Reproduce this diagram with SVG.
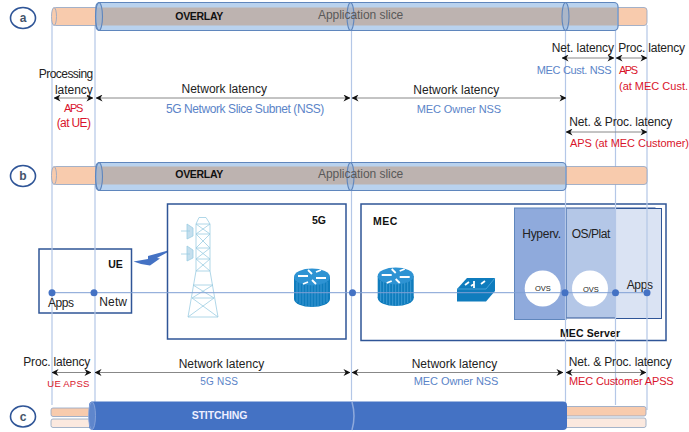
<svg xmlns="http://www.w3.org/2000/svg" width="689" height="432" viewBox="0 0 689 432">
<style>
text{font-family:"Liberation Sans",Arial,sans-serif;font-size:12px;fill:#222}
.s{font-size:11px}
.b{font-weight:bold;font-size:10.500px;fill:#111}
.blue{fill:#5b84c8}.red{fill:#d9142b}
.gt{fill:#595959}
.vl{stroke:#b4c7e7;stroke-width:1.200;fill:none}
.lat{stroke:#888;stroke-width:1;fill:none;marker-start:url(#ah);marker-end:url(#ah)}
.or{fill:#f8cbad;stroke:#8ea3c4;stroke-width:.8}
.pale{fill:#fbe9df;stroke:#8ea3bf;stroke-width:.8}
.pipe{fill:#b9d2ee;stroke:#5f86bd;stroke-width:1.200}
.gray{fill:#bdb3b0}
.ell{fill:#9db8dc;fill-opacity:.55;stroke:#5f86bd;stroke-width:1.100}
.lab{fill:#fff;stroke:#2f5597;stroke-width:1.600}
.box{fill:#fff;stroke:#2f5597;stroke-width:1.500}
.dot{fill:#4472c4}
.tw{stroke:#9ccde2;stroke-width:.8;fill:none}
.rt{fill:#0f7cbd}
.rl{stroke:#52a8dc;stroke-width:.7}
</style>
<defs>
<marker id="ah" viewBox="0 0 8 8" refX="7.500" refY="4" markerWidth="7" markerHeight="7" orient="auto-start-reverse" markerUnits="userSpaceOnUse"><path d="M0 0L8 4L0 8L2.500 4Z" fill="#111"/></marker>
<g id="rtr"><rect x="-18" y="0" width="36" height="22" class="rt"/><ellipse cx="0" cy="22" rx="18" ry="8" class="rt"/>
<path class="rl" d="M-15 5V25M-12 6V27M-9 7V28M-6 8V29M-3 8V30M0 8V30M3 8V30M6 8V29M9 7V28M12 6V27M15 5V25"/>
<ellipse cx="0" cy="0" rx="18" ry="8.500" fill="#2e93d3"/>
<path d="M-14-1L-4-1M14 1L4 1M-4-7L0-3M4 7L0 3M-4 5L-9 7M4-5L9-7" stroke="#fff" stroke-width="1.800"/></g>
</defs>
<g id="node-ue"><rect x="39" y="249" width="92.500" height="64" class="box"/><text class="b" x="108.300" y="268" textLength="14.400">UE</text>
<path d="M133.500 261.500L148 259L148 256L173.500 249L157 258L160 258.500L150 265.500L141 264Z" fill="#4472c4"/></g>
<g id="node-5g"><rect x="167.500" y="204" width="178.500" height="135" class="box"/><text class="b" x="312" y="224" textLength="14">5G</text>
<g class="tw" id="tower"><path d="M196 224V271M210 224V271M196 224L199 217.500H206L210 224M196 224H210M196 224L210 234M210 224L196 234M196 234H210M196 234L210 248M210 234L196 248M196 248H210M196 248L210 259M210 248L196 259M196 259H210M196 259L210 271M210 259L196 271M196 271H210M196 271L188 317M210 271L218 317M193 285L214 298M213 285L192 298M192 298H214M188 317L214 298M218 317L192 298M188 317H218M193 285H213"/>
<path d="M181 231H190M181 254H190M187 224V239L193 236V228ZM187 246V261L193 258V250Z" fill="#c5dfee"/></g>
<use href="#rtr" x="312" y="277"/></g>
<g id="node-mec"><rect x="361" y="204" width="305" height="136.500" class="box"/><text class="b" x="373" y="225" textLength="24.300">MEC</text>
<use href="#rtr" x="395.700" y="276"/>
<g id="switch"><path d="M457 289L467 278H495V291L486 301.500H457Z" fill="#0f7cbd"/><path d="M457 289H486L495 278" fill="none" stroke="#52a8dc" stroke-width=".8"/><path d="M465 285l4-3M474 281v7M481 284l4-3M471 286l3-2" stroke="#fff" stroke-width="1.800"/></g>
<g id="mec-server">
<rect x="566" y="208" width="89" height="110" fill="#b4c7e7" stroke="#2f5597" stroke-width="1"/>
<rect x="615.500" y="208.500" width="46" height="110" fill="#dae3f3" stroke="#2f5597" stroke-width="1"/>
<rect x="514.500" y="208" width="51.500" height="111.500" fill="#8faadc" stroke="#5f86bd" stroke-width="1"/>
<text x="522.300" y="238" textLength="38.700">Hyperv.</text><text x="571.700" y="238" textLength="38.700">OS/Plat</text>
<text x="626.700" y="289" textLength="26.300">Apps</text>
<circle cx="542.700" cy="288.500" r="18" fill="#fff"/><circle cx="590" cy="288.500" r="18" fill="#fff"/>
<text class="b" x="560" y="337" textLength="60">MEC Server</text></g></g>
<g id="connectors">
<path class="vl" d="M52 20V405M95 25V405M351.500 25V400M565.500 25V405M615.500 25V405M647 25V410"/>
<path d="M52 292.700H647" stroke="#7f9fd4" stroke-width="1" fill="none"/>
<circle class="dot" cx="52" cy="292.700" r="3.500"/><circle class="dot" cx="94" cy="292.700" r="3.500"/><circle class="dot" cx="352.500" cy="292.700" r="3.500"/><circle class="dot" cx="565" cy="292.700" r="3.500"/><circle class="dot" cx="615.500" cy="292.700" r="3.500"/><circle class="dot" cx="647" cy="292.700" r="3.500"/>
<path class="lat" d="M54 98H93"/><path class="lat" d="M96 98H350"/><path class="lat" d="M352 98H566"/>
<path class="lat" d="M562 58H614"/><path class="lat" d="M616 58H647"/><path class="lat" d="M566 132H647"/>
<path class="lat" d="M52 372.500H91"/><path class="lat" d="M95 372.500H350"/><path class="lat" d="M352 372.500H563"/><path class="lat" d="M566 372.500H646"/>
</g>
<g id="row-a">
<rect x="53" y="7.500" width="594" height="18" rx="3" class="or"/>
<ellipse cx="54" cy="16.500" rx="2.500" ry="9" class="or"/>
<rect x="96" y="2.500" width="522" height="28" rx="4" class="pipe"/>
<rect x="97" y="7.500" width="520" height="18" class="gray"/>
<ellipse cx="99" cy="16.500" rx="3.500" ry="14" class="ell"/>
<ellipse cx="350.500" cy="16.500" rx="3.500" ry="14" class="ell"/>
<ellipse cx="565.500" cy="16.500" rx="3.500" ry="14" class="ell"/>
<text class="b" x="175.300" y="20" textLength="48">OVERLAY</text>
<text x="318" y="19" textLength="85.300" class="gt">Application slice</text>
</g>
<g id="row-b">
<rect x="53" y="166.500" width="594" height="18" rx="3" class="or"/>
<ellipse cx="54" cy="175.500" rx="2.500" ry="9" class="or"/>
<rect x="96" y="162.500" width="470" height="28" rx="4" class="pipe"/>
<rect x="97" y="166.500" width="468" height="18" class="gray"/>
<ellipse cx="99" cy="176.500" rx="3.500" ry="14" class="ell"/>
<ellipse cx="350.500" cy="176.500" rx="3.500" ry="14" class="ell"/>
<text class="b" x="175.300" y="178" textLength="48">OVERLAY</text>
<text x="318" y="178" textLength="85.300" class="gt">Application slice</text>
</g>
<g id="row-c">
<rect x="51" y="408" width="40" height="8.500" rx="2" class="or"/>
<rect x="51" y="419" width="40" height="8.500" rx="2" class="pale"/>
<rect x="565" y="406.500" width="81" height="9.500" rx="2" class="or"/>
<rect x="565" y="418" width="81" height="9.500" rx="2" class="pale"/>
<rect x="89" y="401.500" width="478" height="28.500" rx="4" fill="#4472c4"/>
<ellipse cx="92" cy="415.700" rx="3.500" ry="14" fill="#5f86cc" stroke="#8faadc" stroke-width=".8"/>
<path d="M352 402Q356 416 352 430" fill="none" stroke="#8faadc" stroke-width="1.500"/>
<text x="191.700" y="419" textLength="55.600" style="fill:#eef;font-weight:bold;font-size:10.500px">STITCHING</text>
</g>
<g id="label-a"><ellipse cx="23" cy="18" rx="12.500" ry="10.500" class="lab"/><text x="23" y="22" text-anchor="middle" style="font-weight:bold;fill:#44546a">a</text></g>
<g id="label-b"><ellipse cx="23" cy="176" rx="12.500" ry="10.500" class="lab"/><text x="23" y="180" text-anchor="middle" style="font-weight:bold;fill:#44546a">b</text></g>
<g id="label-c"><ellipse cx="23" cy="416.500" rx="12.500" ry="10.500" class="lab"/><text x="23" y="420.500" text-anchor="middle" style="font-weight:bold;fill:#44546a">c</text></g>
<g id="labels">
<text x="38.700" y="78" textLength="54.600">Processing</text><text x="55" y="94" textLength="37.700">latency</text>
<text class="red s" x="64" y="112" textLength="19.300">APS</text><text class="red" x="56.700" y="127" textLength="34.300">(at UE)</text>
<text x="181.500" y="93" textLength="85.500">Network latency</text><text class="blue" x="166" y="113" textLength="158.300">5G Network Slice Subnet (NSS)</text>
<text x="413.300" y="94" textLength="86">Network latency</text><text class="blue s" x="416.700" y="113" textLength="84.500">MEC Owner NSS</text>
<text x="551.700" y="52" textLength="62.300">Net. latency</text><text x="618.300" y="52" textLength="66.700">Proc. latency</text>
<text class="blue s" x="536.700" y="74" textLength="75">MEC Cust. NSS</text><text class="red s" x="619" y="74" textLength="19">APS</text><text class="red s" x="619" y="90" textLength="69">(at MEC Cust.</text>
<text x="569.300" y="126" textLength="103">Net. &amp; Proc. latency</text><text class="red s" x="570" y="147" textLength="119">APS (at MEC Customer)</text>
<text x="48" y="307" textLength="26">Apps</text><text x="99.300" y="306" textLength="27.700">Netw</text>
<text x="23.300" y="366" textLength="67">Proc. latency</text><text class="red s" x="47.300" y="387" textLength="42" style="font-size:9.500px">UE APSS</text>
<text x="178.700" y="368" textLength="85.500">Network latency</text><text class="blue s" x="200.300" y="385" textLength="37.700" style="font-size:10px">5G NSS</text>
<text x="411.700" y="368" textLength="85.500">Network latency</text><text class="blue s" x="413.700" y="385" textLength="84.700">MEC Owner NSS</text>
<text x="568.700" y="366" textLength="103">Net. &amp; Proc. latency</text><text class="red s" x="569" y="385" textLength="104.700">MEC Customer APSS</text>
<text x="535" y="291" style="font-size:7.500px">OVS</text><text x="583" y="292" style="font-size:7.500px">OVS</text>
</g>
</svg>
